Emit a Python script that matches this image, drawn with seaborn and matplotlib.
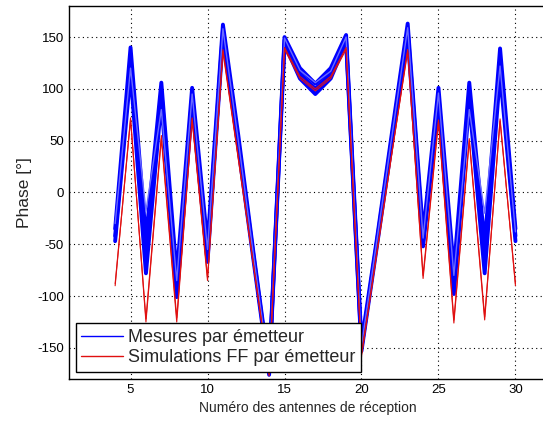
import numpy as np
import pandas as pd
import seaborn as sns
import matplotlib.pyplot as plt
from matplotlib.lines import Line2D

# Numero des antennes de reception
antennes = list(range(4, 31))

# Mesures par emetteur (phase en degres), quelques emetteurs
mesure_haut = [-35, 140, -45, 106, -80, 101, -50, 162, 55, -60, -170, 150, 120, 105,
               120, 152, -145, -45, 60, 163, -40, 101, -75, 106, -50, 139, -35]
mesure_mil = [-42, 128, -62, 98, -92, 92, -60, 156, 48, -63, -173, 147, 115, 100,
              115, 148, -150, -48, 55, 157, -47, 93, -90, 97, -65, 128, -42]
mesure_bas = [-47, 115, -78, 88, -101, 85, -67, 150, 43, -67, -176, 143, 110, 95,
              110, 145, -153, -52, 50, 150, -52, 85, -98, 88, -78, 115, -47]
mesure_ecart = [-30, 120, -18, 80, -85, 95, -55, 158, 50, -62, -172, 149, 118, 106,
                117, 150, -148, -46, 57, 159, -44, 96, -80, 80, -20, 122, -38]

# Simulations FF par emetteur
simu_a = [-90, 72, -125, 52, -125, 70, -85, 138, 34, -71, -175, 140, 112, 100,
          112, 140, -158, -59, 40, 138, -83, 68, -126, 50, -123, 71, -90]
simu_b = [-88, 70, -122, 55, -121, 72, -82, 136, 32, -72, -177, 138, 110, 98,
          110, 138, -156, -57, 41, 136, -80, 70, -123, 52, -120, 69, -88]

sns.set_style("white")
plt.rcParams['font.family'] = ['Liberation Sans', 'DejaVu Sans']
plt.rcParams['axes.unicode_minus'] = False

fig = plt.figure(figsize=(5.43, 4.21), dpi=100)
ax = fig.add_axes([0.127, 0.0998, 0.879, 0.886])

for serie, c, lw in [(mesure_haut, '#0000ff', 2.8), (mesure_mil, '#0000ff', 2.8),
                     (mesure_bas, '#0000ff', 2.8), (mesure_ecart, '#6a6aff', 1.0)]:
    sns.lineplot(x=antennes, y=serie, color=c, lw=lw, ax=ax, legend=False)

for serie in [simu_a, simu_b]:
    sns.lineplot(x=antennes, y=serie, color='#e01010', lw=0.8, ax=ax, legend=False)

ax.set_xlim(1, 32)
ax.set_ylim(-180, 180)
ax.set_xticks([5, 10, 15, 20, 25, 30])
ax.set_yticks([-150, -100, -50, 0, 50, 100, 150])
ax.grid(True, linestyle=(0, (1, 3)), color='k', lw=0.8)
ax.tick_params(direction='in', labelsize=9.5, length=4, colors='k')
for s in ['left', 'bottom', 'top']:
    ax.spines[s].set_color('k')
    ax.spines[s].set_linewidth(1.0)
ax.spines['right'].set_visible(False)

ax.set_ylabel('Phase [°]', fontsize=12.5)
ax.set_xlabel('Numéro des antennes de réception', fontsize=10)

handles = [Line2D([], [], color='#0000ff', lw=1.0),
           Line2D([], [], color='#e01010', lw=1.0)]
leg = ax.legend(handles, ['Mesures par émetteur', 'Simulations FF par émetteur'],
                loc='lower left', bbox_to_anchor=(0.0147, 0.019), borderaxespad=0,
                fontsize=13, handlelength=2.3, handletextpad=0.3, labelspacing=0.2,
                borderpad=0.3, fancybox=False, framealpha=1, edgecolor='k')
leg.get_frame().set_linewidth(1.0)

fig.savefig('out.png', dpi=100)
